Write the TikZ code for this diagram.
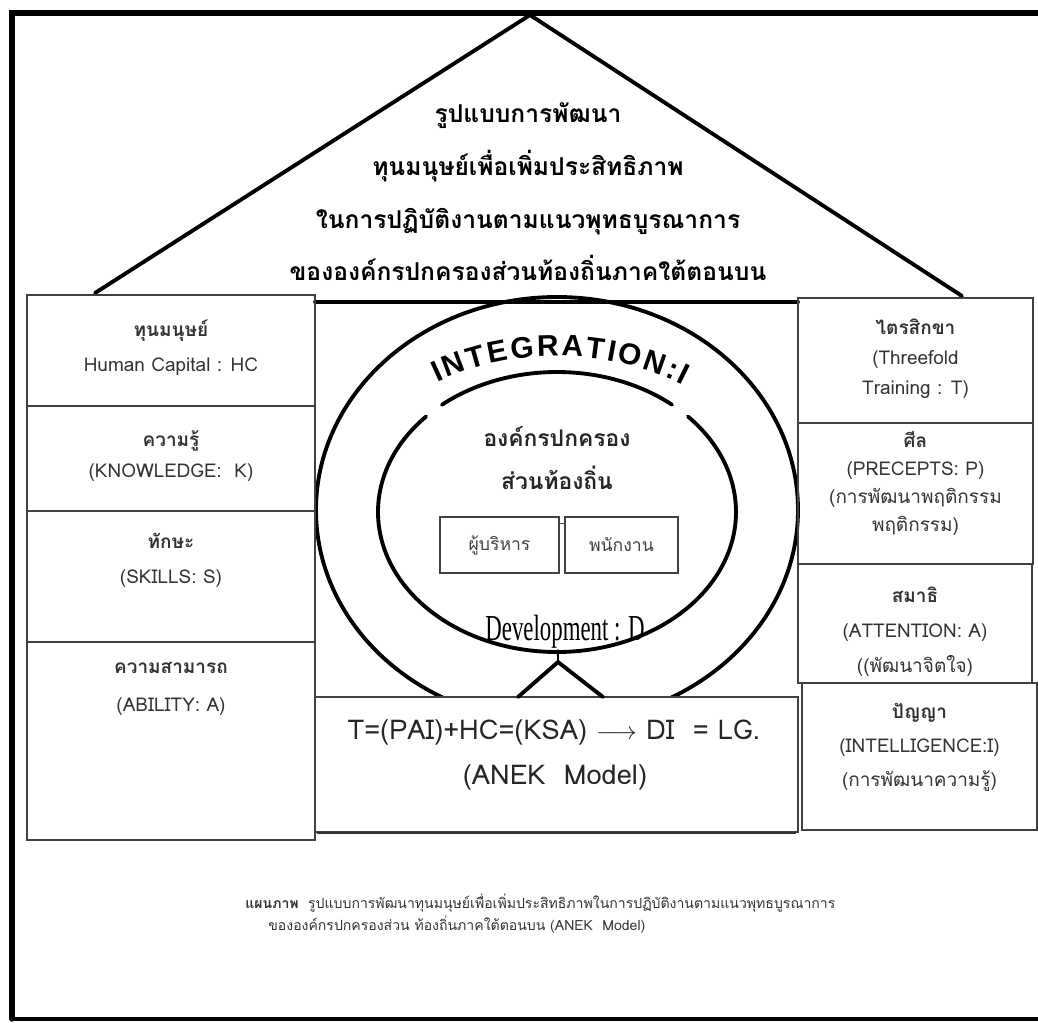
\documentclass[tikz,border=0pt]{standalone}
\usepackage{fontspec}
\setmainfont[Script=Thai]{Loma}
\newfontfamily\latinfont{Liberation Sans}
\newfontfamily\serifont{Liberation Serif}
\usetikzlibrary{decorations.text}
\newcommand\integfont{\latinfont\bfseries\fontsize{17}{17}\selectfont}
\tikzset{
  frame/.style={line width=3pt},
  roof/.style={line width=2.2pt},
  ring/.style={line width=2.2pt},
  cell/.style={draw=black!75, line width=0.8pt},
  boxtext/.style={align=center, text=black!80, inner sep=0pt,
    font=\fontsize{10.8}{#1}\selectfont},
  boxtext/.default=19,
  head/.style={align=center, inner sep=0pt, font=\bfseries\fontsize{14}{30}\selectfont},
}
\begin{document}
\begin{tikzpicture}[x=0.02cm, y=-0.02cm, line cap=round]
 \useasboundingbox (0,0) rectangle (1038,1022);
 % outer frame
 \draw[frame] (1038,13)--(12,13)--(12,1019);
 \draw[line width=2pt] (12,1019)--(1038,1019);
 % roof
 \draw[roof] (95,293)--(530,15)--(962,296);
 \node[head] (title) at (528,192) {รูปแบบการพัฒนา\\ทุนมนุษย์เพื่อเพิ่มประสิทธิภาพ\\ในการปฏิบัติงานตามแนวพุทธบูรณาการ\\ขององค์กรปกครองส่วนท้องถิ่นภาคใต้ตอนบน};
 \draw[roof] (315,302)--(798,302);
 % rings
 \draw[ring] (557,510) ellipse [x radius=241, y radius=213];
 \draw[ring] (557,512) ++(230:179 and 140) arc [start angle=230, end angle=310, x radius=179, y radius=140];
 \draw[ring] (557,512) ++(223:179 and 140) arc [start angle=223, end angle=-43, x radius=179, y radius=140];
 \path[decorate, decoration={text along path, text align={fit to path},
   text={|\integfont|INTEGRATION:I}}]
   (557,518) ++(237:220 and 162) arc [start angle=237, end angle=305, x radius=220, y radius=162];
 \node[head, font=\bfseries\fontsize{13}{25}\selectfont, text=black!85] (lao) at (557,458) {องค์กรปกครอง\\ส่วนท้องถิ่น};
 \node[cell, minimum width=2.38cm, minimum height=1.12cm, text=black!75, font=\fontsize{10}{12}\selectfont] (exe) at (499.5,545) {ผู้บริหาร};
 \node[cell, minimum width=2.26cm, minimum height=1.12cm, text=black!75, font=\fontsize{10}{12}\selectfont] (staff) at (621.5,545) {พนักงาน};
 \draw[black!70, line width=0.6pt] ([yshift=-4pt]exe.north east)--([yshift=-4pt]staff.north west);
 \node[inner sep=0pt] (dev) at (565,632) {\scalebox{1}[1.6]{\serifont\fontsize{13}{13}\selectfont Development : D}};
 % formula box
 \draw[cell, fill=white] (315,697) rectangle (798,832);
 \draw[black!80, line width=1.6pt] (318,833)--(795,833);
 \coordinate (dtip) at (558,662);
 \coordinate (dl) at (518,697);
 \coordinate (dr) at (603,697);
 \draw[ring] (dl)--(dtip)--(dr);
 \draw[line width=0.8pt] (558,650)--(dtip);
 \node[inner sep=0pt, text=black!85, font=\fontsize{15.5}{18}\selectfont] (eqn) at (554,732) {T=(PAI)+HC=(KSA)\ $\longrightarrow$\ DI\ \ = LG.};
 \node[inner sep=0pt, text=black!85, font=\fontsize{15.5}{18}\selectfont] (anek) at (555,777) {(ANEK\ \ Model)};
 % left column
 \draw[cell] (27,295) rectangle (315,406);
 \draw[cell] (27,406) rectangle (315,511);
 \draw[cell] (27,511) rectangle (315,642);
 \draw[cell] (27,642) rectangle (315,840);
 \node[boxtext=20] (hc) at (171,347.5) {\textbf{ทุนมนุษย์}\\Human Capital : HC};
 \node[boxtext=18] (know) at (171,456) {\textbf{ความรู้}\\(KNOWLEDGE:\ \ K)};
 \node[boxtext=20] (skill) at (171,560.5) {\textbf{ทักษะ}\\(SKILLS: S)};
 \node[boxtext=21.5] (abil) at (171,689) {\textbf{ความสามารถ}\\(ABILITY: A)};
 % right column
 \draw[cell] (798,298) rectangle (1033,423);
 \draw[cell] (798,423) rectangle (1033,564);
 \draw[cell] (798,564) rectangle (1032,683);
 \draw[cell] (802,683) rectangle (1037,830);
 \node[boxtext=17] (tri) at (915.5,358.5) {\textbf{ไตรสิกขา}\\(Threefold\\Training : T)};
 \node[boxtext=16] (sila) at (915.5,483.5) {\textbf{ศีล}\\(PRECEPTS: P)\\(การพัฒนาพฤติกรรม\\พฤติกรรม)};
 \node[boxtext=20] (samadhi) at (915,632) {\textbf{สมาธิ}\\(ATTENTION: A)\\((พัฒนาจิตใจ)};
 \node[boxtext=19.5] (panya) at (919.5,747.5) {\textbf{ปัญญา}\\(INTELLIGENCE:I)\\(การพัฒนาความรู้)};
 % caption
 \node[anchor=west, inner sep=0pt, text=black!80, font=\fontsize{8}{10}\selectfont] (cap1) at (245,903) {\textbf{แผนภาพ}\ \ รูปแบบการพัฒนาทุนมนุษย์เพื่อเพิ่มประสิทธิภาพในการปฏิบัติงานตามแนวพุทธบูรณาการ};
 \node[anchor=west, inner sep=0pt, text=black!80, font=\fontsize{8}{10}\selectfont] (cap2) at (268,925) {ขององค์กรปกครองส่วน ท้องถิ่นภาคใต้ตอนบน (ANEK\ \ Model)};
\end{tikzpicture}
\end{document}
